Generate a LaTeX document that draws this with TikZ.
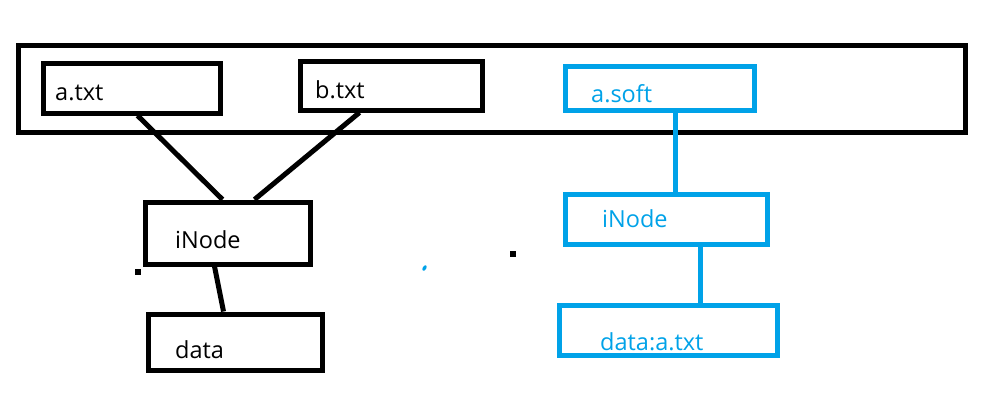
\documentclass[tikz,border=0pt]{standalone}
\usepackage{fontspec}
\setmainfont{Open Sans}
\definecolor{pblue}{RGB}{0,162,232}
\tikzset{
  box/.style={draw=black, line width=5pt, rectangle, inner sep=0pt},
  bbox/.style={draw=pblue, line width=5pt, rectangle, inner sep=0pt},
  lbl/.style={anchor=base west, inner sep=0pt, font=\fontsize{23.5}{25}\selectfont},
  blbl/.style={lbl, text=pblue},
  conn/.style={draw=black, line width=5pt},
  bconn/.style={draw=pblue, line width=5pt},
}
\begin{document}
\begin{tikzpicture}[x=1pt,y=-1pt]
\useasboundingbox (0,0) rectangle (992,418);
% outer frame
\node[box, minimum width=947pt, minimum height=87pt] (outer) at (491.5,88.5) {};
% left side
\node[box, minimum width=176.5pt, minimum height=50pt] (atxt) at (131.75,88) {};
\node[lbl] (atxtl) at (55,100) {a.txt};
\node[box, minimum width=182pt, minimum height=49pt] (btxt) at (391,85.5) {};
\node[lbl] (btxtl) at (315,98) {b.txt};
\node[box, minimum width=165pt, minimum height=62pt] (inode1) at (227.5,233) {};
\node[lbl] (inode1l) at (175,248) {iNode};
\node[box, minimum width=174pt, minimum height=56pt] (data1) at (235,342) {};
\node[lbl] (data1l) at (175,358) {data};
\draw[conn] ([xshift=96.5pt]atxt.south west) -- ([xshift=80pt]inode1.north west);
\draw[conn] ([xshift=62pt]btxt.south west) -- ([xshift=112pt]inode1.north west);
\draw[conn] ([xshift=72pt]inode1.south west) -- ([xshift=78pt]data1.north west);
% right side (blue)
\node[bbox, minimum width=189pt, minimum height=44pt] (asoft) at (659.5,88) {};
\node[blbl] (asoftl) at (591,102) {a.soft};
\node[bbox, minimum width=202pt, minimum height=50pt] (inode2) at (666,219) {};
\node[blbl] (inode2l) at (602,227) {iNode};
\node[bbox, minimum width=218pt, minimum height=50pt] (data2) at (668,330) {};
\node[blbl] (data2l) at (600,350) {data:a.txt};
\draw[bconn] ([xshift=113pt]asoft.south west) -- ([xshift=113pt]inode2.north west);
\draw[bconn] ([xshift=138pt]inode2.south west) -- ([xshift=144pt]data2.north west);
% stray marks
\fill[black] (135,269) rectangle (141,275);
\fill[black] (510,251) rectangle (516,257);
\fill[pblue, rotate around={60:(424.5,268)}] (424.5,268) ellipse (3pt and 1.8pt);
\end{tikzpicture}
\end{document}
